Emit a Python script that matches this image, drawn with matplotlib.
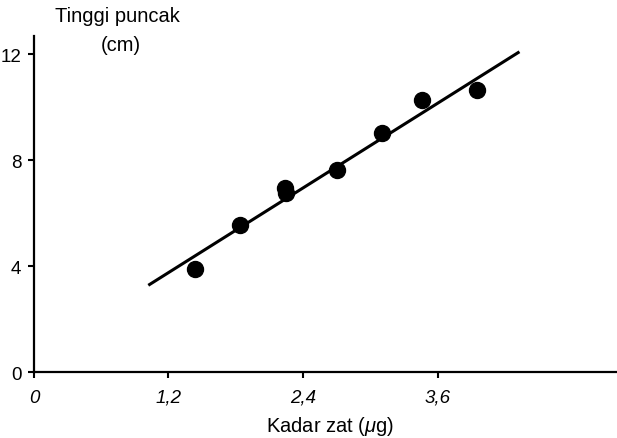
import matplotlib.pyplot as plt

plt.rcParams['font.family'] = ['Liberation Sans', 'DejaVu Sans']
plt.rcParams['mathtext.fontset'] = 'custom'
plt.rcParams['mathtext.it'] = 'Liberation Sans:italic'
plt.rcParams['mathtext.rm'] = 'Liberation Sans'

# measured points: concentration (ug) vs peak height (cm)
kadar = [1.44, 1.84, 2.24, 2.25, 2.70, 3.10, 3.46, 3.95]
tinggi = [3.9, 5.55, 6.95, 6.75, 7.62, 9.02, 10.26, 10.64]

# calibration line end points
garis_x = [1.02, 4.33]
garis_y = [3.28, 12.1]

x_ticks = [0, 1.2, 2.4, 3.6]
x_tick_labels = ['0', '1,2', '2,4', '3,6']
y_ticks = [0, 4, 8, 12]
y_tick_labels = ['0', '4', '8', '12']

fig = plt.figure(figsize=(6.17, 4.39), dpi=100)
ax = fig.add_axes([0.055, 0.150, 0.945, 0.766])

ax.plot(garis_x, garis_y, color='black', linewidth=2.2, solid_capstyle='butt')
ax.plot(kadar, tinggi, 'o', color='black', markersize=11.5)

ax.set_xlim(0, 5.2)
ax.set_ylim(0, 12.7)

ax.spines['top'].set_visible(False)
ax.spines['right'].set_visible(False)
ax.spines['left'].set_linewidth(1.6)
ax.spines['bottom'].set_linewidth(1.6)

ax.set_xticks(x_ticks)
ax.set_xticklabels(x_tick_labels, fontstyle='italic', fontsize=13.5)
ax.set_yticks(y_ticks)
ax.set_yticklabels(y_tick_labels, fontsize=13.5)
ax.tick_params(axis='both', direction='out', length=4, width=1.5)
ax.tick_params(axis='x', pad=8)
ax.tick_params(axis='y', pad=5)

ax.set_xlabel('Kadar zat ($\\mu$g)', fontsize=14.5)
ax.xaxis.set_label_coords(0.508, -0.125)

fig.text(0.191, 0.962, 'Tinggi puncak', fontsize=14.5, ha='center', va='center')
fig.text(0.196, 0.897, '(cm)', fontsize=14.5, ha='center', va='center')

fig.savefig('out.png', dpi=100)
